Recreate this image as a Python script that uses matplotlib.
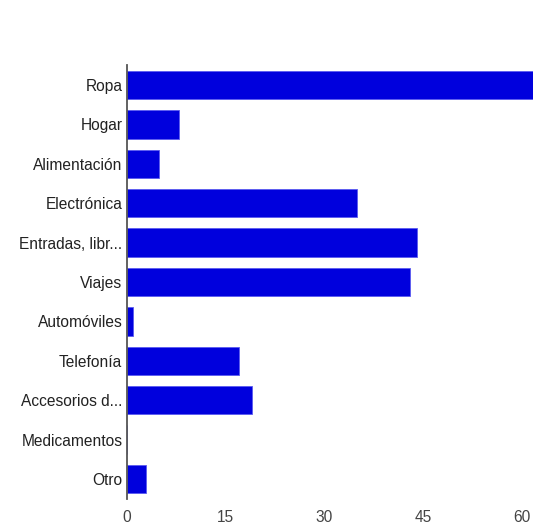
import matplotlib
matplotlib.use("Agg")
import matplotlib.pyplot as plt

categories = ["Ropa", "Hogar", "Alimentación", "Electrónica", "Entradas, libr...",
              "Viajes", "Automóviles", "Telefonía", "Accesorios d...", "Medicamentos", "Otro"]
values = [65, 8, 5, 35, 44, 43, 1, 17, 19, 0, 3]
xticks = [0, 15, 30, 45, 60]

plt.rcParams['font.family'] = ['Liberation Sans', 'DejaVu Sans']

fig = plt.figure(figsize=(5.33, 5.27), dpi=100)
ax = fig.add_axes([126.5/533, 28.3/527, (533-126.5)/533, (461.7-28.3)/527])

y = list(range(len(categories)))
ax.barh(y, values, height=0.72, color="#0000dd", edgecolor="#5a5af0", linewidth=0.6)
ax.set_ylim(len(categories) - 0.5, -0.5)
ax.set_xlim(0, (533-126.5)/((522-126.5)/60))
ax.set_yticks(y)
ax.set_yticklabels(categories, fontsize=11.2, color="#222222")
ax.set_xticks(xticks)
ax.set_xticklabels([str(t) for t in xticks], fontsize=11.2, color="#444444")
ax.tick_params(axis='y', length=0, pad=3)
ax.tick_params(axis='x', length=0, pad=8)
for s in ["top", "right", "bottom"]:
    ax.spines[s].set_visible(False)
ax.spines["left"].set_color("#555555")
ax.spines["left"].set_linewidth(1.3)
ax.spines["left"].set_zorder(3)
ax.set_facecolor("white")
fig.patch.set_facecolor("white")

fig.savefig("out.png", dpi=100)
